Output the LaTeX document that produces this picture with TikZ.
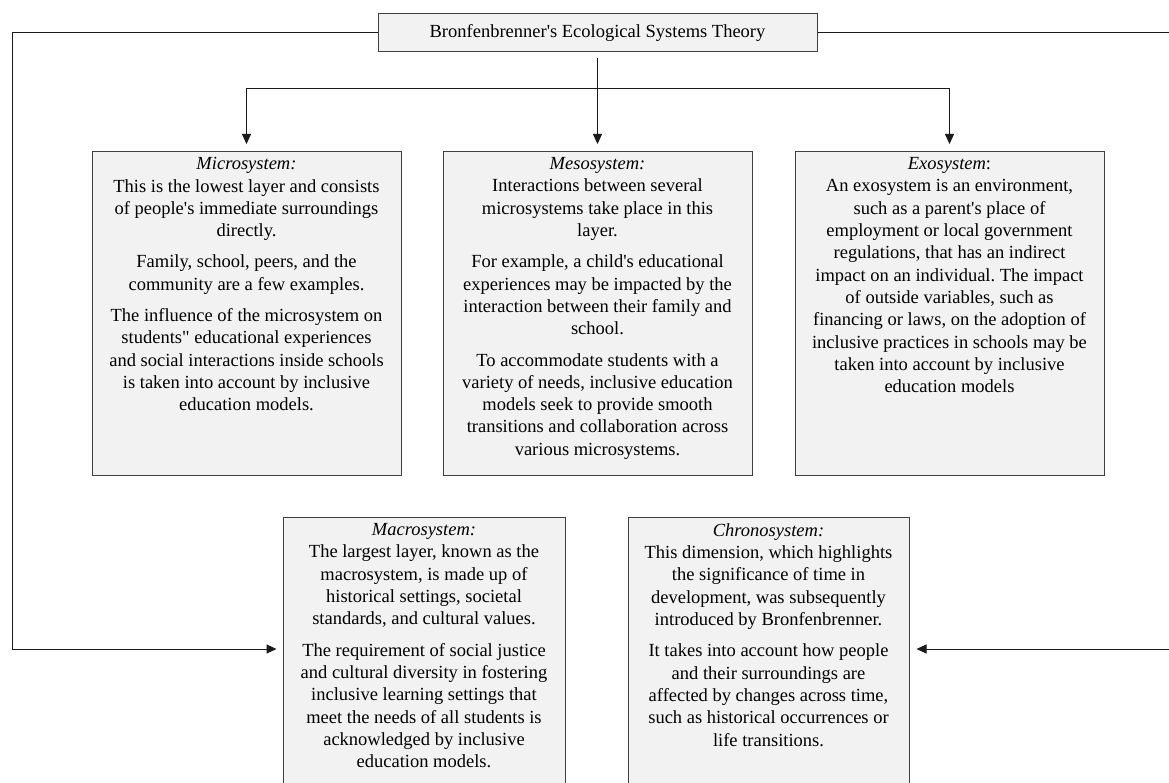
\documentclass[tikz,border=0pt]{standalone}
\usepackage{fontspec}
\setmainfont{Liberation Serif}[Ligatures=TeXOff]
\usetikzlibrary{arrows.meta}
\definecolor{boxfill}{HTML}{F2F2F2}
\definecolor{boxline}{HTML}{404040}
\definecolor{wire}{HTML}{1A1A1A}
\frenchspacing
\tikzset{>={Triangle[length=10pt,width=9pt]}}
\tikzset{
    layer/.style={draw=boxline,fill=boxfill,line width=1pt,inner xsep=4pt,
        inner ysep=6pt,anchor=north},
    wires/.style={draw=wire,line width=1pt}
}
\newcommand\layerbody[3]{\parbox[t][#2][t]{#1}{\centering
    \fontsize{18.5}{22.3}\selectfont #3}}

\begin{document}
\begin{tikzpicture}[x=1pt,y=-1pt]
    \useasboundingbox (0,0) rectangle (1169,783);
    \node[draw=boxline,fill=boxfill,line width=1pt,minimum width=439pt,
        minimum height=38pt,inner sep=0pt,font=\fontsize{18.5}{22}\selectfont]
        (title) at (597.5,33) {Bronfenbrenner's Ecological Systems Theory};
    \node[layer] (micro) at (246.5,151) {\layerbody{301pt}{312pt}{%
        \textit{Microsystem:}\\
        This is the lowest layer and consists\\
        of people's immediate surroundings\\
        directly.\\[9pt]
        Family, school, peers, and the\\
        community are a few examples.\\[9pt]
        The influence of the microsystem on\\
        students" educational experiences\\
        and social interactions inside schools\\
        is taken into account by inclusive\\
        education models.}};
    \node[layer] (meso) at (597.5,151) {\layerbody{301pt}{312pt}{%
        \textit{Mesosystem:}\\
        Interactions between several\\
        microsystems take place in this\\
        layer.\\[9pt]
        For example, a child's educational\\
        experiences may be impacted by the\\
        interaction between their family and\\
        school.\\[9pt]
        To accommodate students with a\\
        variety of needs, inclusive education\\
        models seek to provide smooth\\
        transitions and collaboration across\\
        various microsystems.}};
    \node[layer] (exo) at (949.5,151) {\layerbody{301pt}{312pt}{%
        \textit{Exosystem}:\\
        An exosystem is an environment,\\
        such as a parent's place of\\
        employment or local government\\
        regulations, that has an indirect\\
        impact on an individual. The impact\\
        of outside variables, such as\\
        financing or laws, on the adoption of\\
        inclusive practices in schools may be\\
        taken into account by inclusive\\
        education models}};
    \node[layer] (macro) at (424,517) {\layerbody{274pt}{290pt}{%
        \textit{Macrosystem:}\\
        The largest layer, known as the\\
        macrosystem, is made up of\\
        historical settings, societal\\
        standards, and cultural values.\\[9pt]
        The requirement of social justice\\
        and cultural diversity in fostering\\
        inclusive learning settings that\\
        meet the needs of all students is\\
        acknowledged by inclusive\\
        education models.}};
    \node[layer] (chrono) at (768.5,517) {\layerbody{273pt}{290pt}{%
        \textit{Chronosystem:}\\
        This dimension, which highlights\\
        the significance of time in\\
        development, was subsequently\\
        introduced by Bronfenbrenner.\\[9pt]
        It takes into account how people\\
        and their surroundings are\\
        affected by changes across time,\\
        such as historical occurrences or\\
        life transitions.}};
    \coordinate (split) at (597.5,89);
    \coordinate (lrail) at (12,649);
    \coordinate (rrail) at (1172,649);
    \draw[wires,->,shorten <=6pt,shorten >=7pt] (title.south) -- (meso.north);
    \draw[wires,->,shorten >=7pt] (split) -| (micro.north);
    \draw[wires,->,shorten >=7pt] (split) -| (exo.north);
    \draw[wires,->,shorten >=6pt] (title.west) -| (lrail) -- (lrail -| macro.west);
    \draw[wires,->,shorten >=7pt] (title.east) -| (rrail) -- (rrail -| chrono.east);
\end{tikzpicture}
\end{document}
